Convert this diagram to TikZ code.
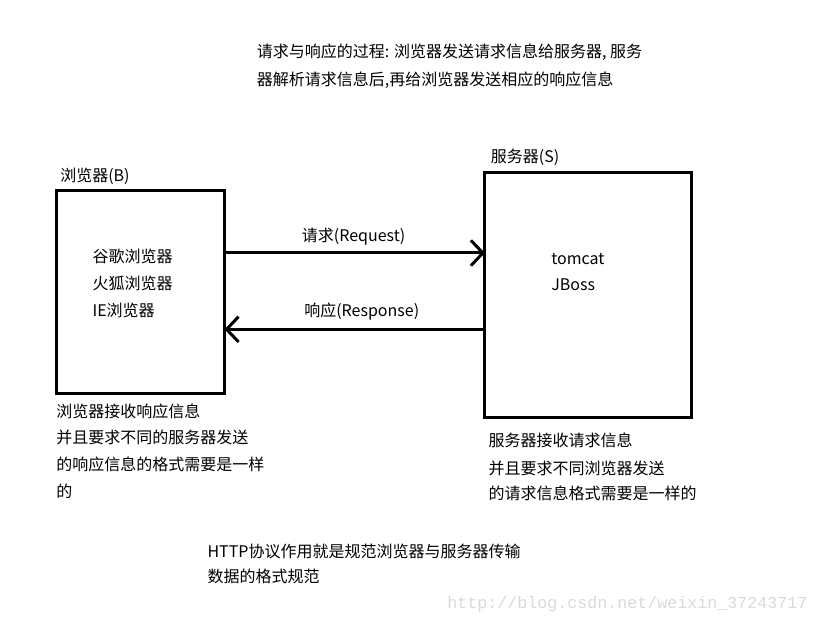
\documentclass[tikz,border=0pt]{standalone}
\usepackage{fontspec}
\setmainfont{Noto Sans CJK SC}
\newfontfamily\wmfont{Liberation Mono}
\usetikzlibrary{arrows.meta}
\definecolor{wmgray}{RGB}{218,218,218}
\begin{document}
\begin{tikzpicture}[x=0.75pt,y=-0.75pt,
  box/.style={draw,line width=2.25pt,inner sep=0pt,outer sep=0pt},
  txt/.style={anchor=base west,inner sep=0pt,font=\fontsize{12}{14}\selectfont},
  arr/.style={line width=2.25pt,-{Straight Barb[length=9pt,width=19pt]}}]
\useasboundingbox (0,0) rectangle (818,624);
\fill[white] (0,0) rectangle (818,624);

% boxes
\node[box,minimum width=126pt,minimum height=152.25pt] (B) at (140.5,292) {};
\node[box,minimum width=155pt,minimum height=184pt] (S) at (588.3,294.7) {};

% connectors
\draw[arr] (B.east |- 0,253) -- (S.west |- 0,253);
\draw[arr] (S.west |- 0,329.3) -- (B.east |- 0,329.3);

% top text
\node[txt] (t1) at (256.7,57.7) {请求与响应的过程: 浏览器发送请求信息给服务器, 服务};
\node[txt] (t2) at (256.7,85.3) {器解析请求信息后,再给浏览器发送相应的响应信息};

% titles
\node[txt] (bt) at (60,182) {浏览器(B)};
\node[txt] (st) at (490.7,162.7) {服务器(S)};

% box content
\node[txt] (b1) at (92.3,262.7) {谷歌浏览器};
\node[txt] (b2) at (92.3,289.3) {火狐浏览器};
\node[txt] (b3) at (92.3,316) {IE浏览器};
\node[txt] (s1) at (551,264) {tomcat};
\node[txt] (s2) at (551,290.7) {JBoss};

% arrow labels
\node[txt] (req) at (301.7,242) {请求(Request)};
\node[txt] (res) at (304,316) {响应(Response)};

% notes
\node[txt] (l1) at (56,417.7) {浏览器接收响应信息};
\node[txt] (l2) at (56,443.7) {并且要求不同的服务器发送};
\node[txt] (l3) at (56,470.3) {的响应信息的格式需要是一样};
\node[txt] (l4) at (56,497.7) {的};
\node[txt] (r1) at (488.3,446) {服务器接收请求信息};
\node[txt] (r2) at (488.3,474.3) {并且要求不同浏览器发送};
\node[txt] (r3) at (488.3,499.3) {的请求信息格式需要是一样的};
\node[txt] (h1) at (207.3,557.7) {HTTP协议作用就是规范浏览器与服务器传输};
\node[txt] (h2) at (207.3,582.7) {数据的格式规范};

% watermark
\node[anchor=base west,inner sep=0pt,text=wmgray,font=\wmfont\fontsize{12.5}{14}\selectfont] (wm) at (447,608) {http://blog.csdn.net/weixin\_37243717};
\end{tikzpicture}
\end{document}
